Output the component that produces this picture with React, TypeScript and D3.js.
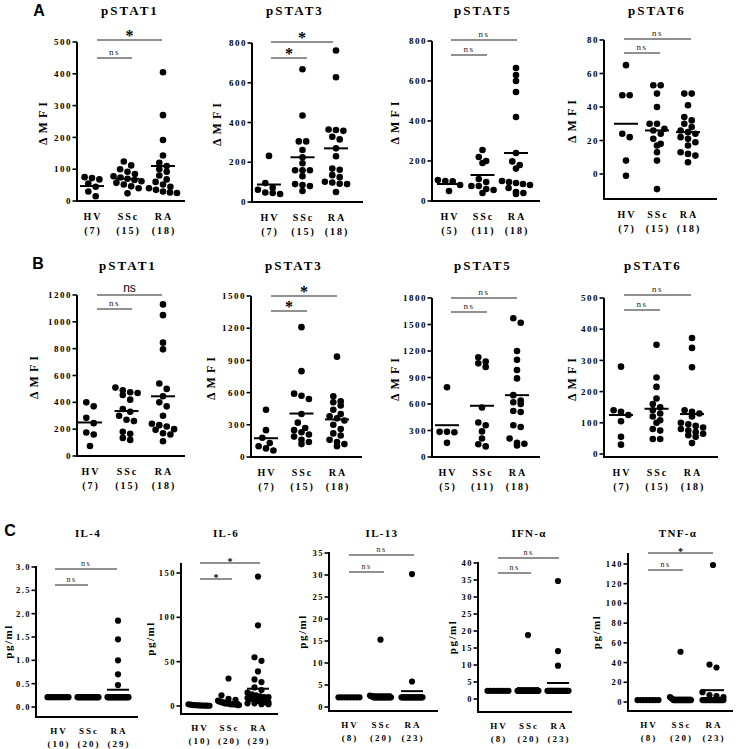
import React from "react";
import * as d3 from "d3";

const groups = ["HV", "SSc", "RA"];

// ---------- Panel A (ΔMFI) ----------
const a1HV = [75, 72, 68, 55, 45, 30, 15];
const a1SSc = [124, 112, 100, 92, 85, 78, 74, 70, 66, 62, 57, 52, 46, 40, 24];
const a1RA = [405, 270, 192, 143, 120, 110, 100, 92, 80, 68, 60, 52, 45, 40, 35, 30, 27, 25];
const a1Line = [47, 70, 110];

const a2HV = [232, 95, 72, 62, 48, 45, 40];
const a2SSc = [668, 435, 305, 305, 262, 225, 195, 160, 160, 160, 130, 90, 85, 80, 55];
const a2RA = [762, 628, 365, 362, 358, 328, 315, 270, 230, 168, 162, 135, 125, 102, 98, 92, 90, 50];
const a2Line = [88, 225, 270];

const a3HV = [105, 100, 98, 80, 50];
const a3SSc = [255, 220, 200, 190, 110, 95, 75, 75, 60, 55, 40];
const a3RA = [665, 630, 600, 545, 420, 240, 198, 180, 162, 100, 95, 90, 85, 80, 65, 45, 40, 35];
const a3Line = [85, 130, 240];

const a4HV = [65, 47, 47, 24, 22, 8, -1];
const a4SSc = [53, 53, 48, 40, 30, 30, 27, 26, 24, 21, 18, 17, 13, 8, -9];
const a4RA = [48, 48, 41, 34, 32, 30, 28, 26, 25, 24, 22, 21, 19, 17, 13, 12, 11, 7];
const a4Line = [30, 26, 25];

// ---------- Panel B (ΔMFI) ----------
const b1HV = [400, 370, 285, 245, 175, 160, 75];
const b1SSc = [510, 490, 475, 470, 455, 420, 350, 330, 300, 270, 260, 180, 165, 135, 120];
const b1RA = [1130, 1050, 845, 795, 540, 500, 445, 400, 370, 300, 240, 230, 220, 200, 195, 170, 160, 110];
const b1Line = [250, 335, 445];

const b2HV = [440, 250, 180, 130, 100, 80, 60];
const b2SSc = [1210, 800, 590, 570, 540, 400, 320, 270, 250, 230, 210, 190, 160, 140, 120];
const b2RA = [935, 565, 520, 510, 480, 440, 400, 380, 360, 340, 300, 260, 220, 200, 160, 140, 120, 100];
const b2Line = [175, 405, 350];

const b3HV = [790, 285, 285, 280, 160];
const b3SSc = [1130, 1080, 1060, 1020, 560, 390, 360, 290, 210, 145, 120];
const b3RA = [1570, 1520, 1200, 1100, 985, 890, 700, 640, 620, 600, 520, 510, 360, 340, 210, 160, 150, 130];
const b3Line = [360, 580, 700];

const b4HV = [280, 140, 135, 125, 105, 55, 30];
const b4SSc = [350, 245, 215, 178, 160, 150, 140, 130, 120, 108, 100, 80, 75, 48, 48];
const b4RA = [372, 340, 278, 140, 135, 130, 120, 100, 95, 90, 85, 80, 75, 70, 65, 60, 55, 35];
const b4Line = [125, 145, 128];

// ---------- Panel C (pg/ml) ----------
const c1HV = [0.21, 0.21, 0.21, 0.21, 0.21, 0.21, 0.21, 0.21, 0.21, 0.21];
const c1SSc = [0.21, 0.21, 0.21, 0.21, 0.21, 0.21, 0.21, 0.21, 0.21, 0.21, 0.21, 0.21, 0.21, 0.21, 0.21, 0.21, 0.21, 0.21, 0.21, 0.21];
const c1RA = [1.85, 1.45, 1.0, 0.7, 0.47, 0.21, 0.21, 0.21, 0.21, 0.21, 0.21, 0.21, 0.21, 0.21, 0.21, 0.21, 0.21, 0.21, 0.21, 0.21, 0.21, 0.21, 0.21, 0.21, 0.21, 0.21, 0.21, 0.21, 0.21];
const c1Line = [0.21, 0.21, 0.37];

const c2HV = [2, 1.5, 1, 1, 0.8, 0.6, 0.5, 0.5, 0.4, 0.3];
const c2SSc = [31, 12, 8, 7, 6, 5, 5, 4, 4, 3, 3, 3, 3, 2, 2, 2, 2, 2, 1, 1];
const c2RA = [146, 91, 55, 51, 39, 30, 27, 21, 18, 15, 13, 12, 11, 10, 10, 9, 8, 8, 7, 6, 6, 5, 5, 4, 4, 3, 3, 2, 2];
const c2Line = [0.8, 4.5, 19.5];

const c3HV = [2.2, 2.2, 2.2, 2.2, 2.2, 2.2, 2.2, 2.2];
const c3SSc = [15.3, 2.6, 2.5, 2.4, 2.2, 2.2, 2.2, 2.2, 2.2, 2.2, 2.2, 2.2, 2.2, 2.2, 2.2, 2.2, 2.2, 2.2, 2.2, 2.2];
const c3RA = [30.2, 5.8, 2.2, 2.2, 2.2, 2.2, 2.2, 2.2, 2.2, 2.2, 2.2, 2.2, 2.2, 2.2, 2.2, 2.2, 2.2, 2.2, 2.2, 2.2, 2.2, 2.2, 2.2];
const c3Line = [2.2, 2.9, 3.6];

const c4HV = [2.4, 2.4, 2.4, 2.4, 2.4, 2.4, 2.4, 2.4];
const c4SSc = [18.8, 2.4, 2.4, 2.4, 2.4, 2.4, 2.4, 2.4, 2.4, 2.4, 2.4, 2.4, 2.4, 2.4, 2.4, 2.4, 2.4, 2.4, 2.4, 2.4];
const c4RA = [34.7, 14.1, 9.8, 2.4, 2.4, 2.4, 2.4, 2.4, 2.4, 2.4, 2.4, 2.4, 2.4, 2.4, 2.4, 2.4, 2.4, 2.4, 2.4, 2.4, 2.4, 2.4, 2.4];
const c4Line = [2.4, 3.2, 4.7];

const c5HV = [2, 2, 2, 2, 2, 2, 2, 2];
const c5SSc = [51, 5, 4, 3, 2, 2, 2, 2, 2, 2, 2, 2, 2, 2, 2, 2, 2, 2, 2, 2];
const c5RA = [139, 38, 35, 10, 7, 6, 5, 2, 2, 2, 2, 2, 2, 2, 2, 2, 2, 2, 2, 2, 2, 2, 2];
const c5Line = [2, 4.5, 12];

// sample sizes
const nA = ["(7)", "(15)", "(18)"];
const nA5 = ["(5)", "(11)", "(18)"];
const nIL46 = ["(10)", "(20)", "(29)"];
const nC = ["(8)", "(20)", "(23)"];

// tick values
const ticks500 = [0, 100, 200, 300, 400, 500];
const ticks800 = [0, 200, 400, 600, 800];
const ticks80 = [0, 20, 40, 60, 80];
const ticks1200 = [0, 200, 400, 600, 800, 1000, 1200];
const ticks1500 = [0, 300, 600, 900, 1200, 1500];
const ticks1800 = [0, 300, 600, 900, 1200, 1500, 1800];
const ticksIL4 = [0, 0.5, 1, 1.5, 2, 2.5, 3];
const ticksIL6 = [0, 50, 100, 150];
const ticksIL13 = [0, 5, 10, 15, 20, 25, 30, 35];
const ticksIFN = [0, 5, 10, 15, 20, 25, 30, 35, 40];
const ticksTNF = [0, 20, 40, 60, 80, 100, 120, 140];

const SERIF = "'Liberation Serif', 'Times New Roman', serif";
const SANS = "'Liberation Sans', Arial, sans-serif";

type Sig = { x1: number; x2: number; y: number; label: string };
type Panel = {
  title: string; titleX: number; titleY: number; row: "AB" | "C";
  axisX: number; xEnd: number; y0: number; yTop: number; axisTop: number; xAxisY: number;
  ticks: number[]; fmt: (v: number) => string;
  xHV: number; xRA: number;
  data: number[][]; lines: number[]; ns: string[];
  sig: Sig[]; ylabel: string; labelX: number;
};

const fInt = (v: number) => d3.format("d")(v);
const f1 = (v: number) => d3.format(".1f")(v);

const panels: Panel[] = [
  { title: "pSTAT1", titleX: 130, titleY: 15, row: "AB", axisX: 77, xEnd: 185, y0: 201, yTop: 42, axisTop: 42, xAxisY: 201,
    ticks: ticks500, fmt: fInt, xHV: 92, xRA: 163, data: [a1HV, a1SSc, a1RA], lines: a1Line, ns: nA,
    sig: [{ x1: 97, x2: 132, y: 58, label: "ns" }, { x1: 97, x2: 162, y: 40, label: "*" }], ylabel: "ΔMFI", labelX: 43 },
  { title: "pSTAT3", titleX: 295, titleY: 15, row: "AB", axisX: 252, xEnd: 363, y0: 202, yTop: 43, axisTop: 43, xAxisY: 202,
    ticks: ticks800, fmt: fInt, xHV: 269, xRA: 336, data: [a2HV, a2SSc, a2RA], lines: a2Line, ns: nA,
    sig: [{ x1: 271, x2: 307, y: 58, label: "*" }, { x1: 271, x2: 333, y: 42, label: "*" }], ylabel: "ΔMFI", labelX: 217 },
  { title: "pSTAT5", titleX: 483, titleY: 15, row: "AB", axisX: 432, xEnd: 540, y0: 201, yTop: 41, axisTop: 41, xAxisY: 201,
    ticks: ticks800, fmt: fInt, xHV: 449, xRA: 516, data: [a3HV, a3SSc, a3RA], lines: a3Line, ns: nA5,
    sig: [{ x1: 451, x2: 487, y: 55, label: "ns" }, { x1: 451, x2: 517, y: 40, label: "ns" }], ylabel: "ΔMFI", labelX: 395 },
  { title: "pSTAT6", titleX: 657, titleY: 15, row: "AB", axisX: 604, xEnd: 717, y0: 174, yTop: 40, axisTop: 40, xAxisY: 199,
    ticks: ticks80, fmt: fInt, xHV: 626, xRA: 688, data: [a4HV, a4SSc, a4RA], lines: a4Line, ns: nA,
    sig: [{ x1: 624, x2: 660, y: 53, label: "ns" }, { x1: 624, x2: 691, y: 39, label: "ns" }], ylabel: "ΔMFI", labelX: 572 },

  { title: "pSTAT1", titleX: 128, titleY: 270, row: "AB", axisX: 77, xEnd: 185, y0: 456, yTop: 295, axisTop: 295, xAxisY: 456,
    ticks: ticks1200, fmt: fInt, xHV: 90, xRA: 163, data: [b1HV, b1SSc, b1RA], lines: b1Line, ns: nA,
    sig: [{ x1: 97, x2: 132, y: 309, label: "ns" }, { x1: 97, x2: 162, y: 295, label: "NS" }], ylabel: "ΔMFI", labelX: 34 },
  { title: "pSTAT3", titleX: 294, titleY: 270, row: "AB", axisX: 251, xEnd: 362, y0: 457, yTop: 296, axisTop: 296, xAxisY: 457,
    ticks: ticks1500, fmt: fInt, xHV: 266, xRA: 337, data: [b2HV, b2SSc, b2RA], lines: b2Line, ns: nA,
    sig: [{ x1: 271, x2: 307, y: 311, label: "*" }, { x1: 271, x2: 337, y: 296, label: "*" }], ylabel: "ΔMFI", labelX: 211 },
  { title: "pSTAT5", titleX: 483, titleY: 270, row: "AB", axisX: 432, xEnd: 540, y0: 457, yTop: 298, axisTop: 298, xAxisY: 457,
    ticks: ticks1800, fmt: fInt, xHV: 447, xRA: 517, data: [b3HV, b3SSc, b3RA], lines: b3Line, ns: nA5,
    sig: [{ x1: 451, x2: 487, y: 312, label: "ns" }, { x1: 451, x2: 517, y: 298, label: "ns" }], ylabel: "ΔMFI", labelX: 395 },
  { title: "pSTAT6", titleX: 653, titleY: 270, row: "AB", axisX: 604, xEnd: 718, y0: 454, yTop: 298, axisTop: 298, xAxisY: 457,
    ticks: ticks500, fmt: fInt, xHV: 621, xRA: 692, data: [b4HV, b4SSc, b4RA], lines: b4Line, ns: nA,
    sig: [{ x1: 624, x2: 660, y: 310, label: "ns" }, { x1: 624, x2: 691, y: 295, label: "ns" }], ylabel: "ΔMFI", labelX: 572 },

  { title: "IL-4", titleX: 88, titleY: 537, row: "C", axisX: 36, xEnd: 138, y0: 707, yTop: 567, axisTop: 566, xAxisY: 717,
    ticks: ticksIL4, fmt: f1, xHV: 58, xRA: 118, data: [c1HV, c1SSc, c1RA], lines: c1Line, ns: nIL46,
    sig: [{ x1: 55, x2: 88, y: 585, label: "ns" }, { x1: 55, x2: 117, y: 569, label: "ns" }], ylabel: "pg/ml", labelX: 8 },
  { title: "IL-6", titleX: 226, titleY: 537, row: "C", axisX: 181, xEnd: 278, y0: 706, yTop: 573, axisTop: 563, xAxisY: 714,
    ticks: ticksIL6, fmt: fInt, xHV: 199, xRA: 258, data: [c2HV, c2SSc, c2RA], lines: c2Line, ns: nIL46,
    sig: [{ x1: 200, x2: 232, y: 579, label: "*" }, { x1: 200, x2: 260, y: 563, label: "*" }], ylabel: "pg/ml", labelX: 150 },
  { title: "IL-13", titleX: 382, titleY: 537, row: "C", axisX: 329, xEnd: 438, y0: 707, yTop: 553, axisTop: 552, xAxisY: 711,
    ticks: ticksIL13, fmt: fInt, xHV: 349, xRA: 412, data: [c3HV, c3SSc, c3RA], lines: c3Line, ns: nC,
    sig: [{ x1: 349, x2: 384, y: 572, label: "ns" }, { x1: 349, x2: 414, y: 555, label: "ns" }], ylabel: "pg/ml", labelX: 302 },
  { title: "IFN-α", titleX: 529, titleY: 537, row: "C", axisX: 478, xEnd: 572, y0: 699, yTop: 563, axisTop: 562, xAxisY: 712,
    ticks: ticksIFN, fmt: fInt, xHV: 498, xRA: 558, data: [c4HV, c4SSc, c4RA], lines: c4Line, ns: nC,
    sig: [{ x1: 498, x2: 531, y: 573, label: "ns" }, { x1: 498, x2: 559, y: 558, label: "ns" }], ylabel: "pg/ml", labelX: 452 },
  { title: "TNF-α", titleX: 678, titleY: 537, row: "C", axisX: 628, xEnd: 733, y0: 702, yTop: 564, axisTop: 553, xAxisY: 711,
    ticks: ticksTNF, fmt: fInt, xHV: 648, xRA: 713, data: [c5HV, c5SSc, c5RA], lines: c5Line, ns: nC,
    sig: [{ x1: 648, x2: 683, y: 570, label: "ns" }, { x1: 648, x2: 713, y: 553, label: "*" }], ylabel: "pg/ml", labelX: 596 },
];

function swarm(values: number[], y: (v: number) => number, cx: number, d: number, W: number) {
  const pts = values.map((v) => ({ v, py: y(v) })).sort((a, b) => a.py - b.py);
  const rows: { v: number; py: number }[][] = [];
  for (const p of pts) {
    const last = rows[rows.length - 1];
    if (last && p.py - last[0].py < d * 0.85) last.push(p);
    else rows.push([p]);
  }
  const out: { x: number; y: number }[] = [];
  for (const row of rows) {
    const n = row.length;
    const s = n > 1 ? Math.min(d + 0.8, (2 * W) / (n - 1)) : 0;
    // alternate placement: center-out
    const order = row.map((_, i) => i);
    order.forEach((i) => out.push({ x: cx + (i - (n - 1) / 2) * s, y: row[i].py }));
  }
  return out;
}

function PanelView({ p }: { p: Panel }) {
  const isC = p.row === "C";
  const maxTick = p.ticks[p.ticks.length - 1];
  const y = d3.scaleLinear().domain([0, maxTick]).range([p.y0, p.yTop]);
  const x = d3.scalePoint<string>().domain(groups).range([p.xHV, p.xRA]);
  const r = isC ? 3.1 : 3.3;
  const W = isC ? 10.5 : 14;
  const half = isC ? 11 : 12;
  const tickSize = isC ? 8.5 : 9;
  const catSize = isC ? 9 : 10;
  const catDy1 = isC ? 16.5 : 19;
  const catDy2 = isC ? 29.5 : 33;
  return (
    <g>
      <text x={p.titleX} y={p.titleY} textAnchor="middle" fontFamily={SERIF} fontWeight="bold"
        fontSize={isC ? 11 : 13} letterSpacing={isC ? 1.3 : 2}>{p.title}</text>
      {/* y axis */}
      <line x1={p.axisX} x2={p.axisX} y1={p.axisTop} y2={p.xAxisY + 1} stroke="#000" strokeWidth={2} />
      {p.ticks.map((t) => (
        <g key={t}>
          <line x1={p.axisX - 4.5} x2={p.axisX} y1={y(t)} y2={y(t)} stroke="#000" strokeWidth={1.6} />
          <text x={p.axisX - 5} y={y(t)} dy="0.35em" textAnchor="end" fontFamily={SERIF} fontWeight="bold"
            fontSize={tickSize} letterSpacing={1.5}>{p.fmt(t)}</text>
        </g>
      ))}
      {/* x axis */}
      <line x1={p.axisX - 1} x2={p.xEnd} y1={p.xAxisY} y2={p.xAxisY} stroke="#000" strokeWidth={2} />
      <text transform={`translate(${p.labelX},${(p.axisTop + p.xAxisY) / 2}) rotate(-90)`} textAnchor="middle"
        dominantBaseline="central" fontFamily={SERIF} fontWeight="bold" fontSize={isC ? 11 : 12}
        letterSpacing={isC ? 1.5 : 4}>{p.ylabel}</text>
      {groups.map((g, i) => (
        <g key={g}>
          <text x={(x(g) as number) + 1} y={p.xAxisY + catDy1} textAnchor="middle" fontFamily={SERIF} fontWeight="bold"
            fontSize={catSize} letterSpacing={2}>{g}</text>
          <text x={(x(g) as number) + 1} y={p.xAxisY + catDy2} textAnchor="middle" fontFamily={SERIF} fontWeight="bold"
            fontSize={catSize} letterSpacing={2}>{p.ns[i]}</text>
          {swarm(p.data[i], y, x(g) as number, 2 * r, W).map((pt, j) => (
            <circle key={j} cx={pt.x} cy={pt.y} r={r} fill="#000" />
          ))}
          <line x1={(x(g) as number) - half} x2={(x(g) as number) + half} y1={y(p.lines[i])} y2={y(p.lines[i])}
            stroke="#000" strokeWidth={2} />
        </g>
      ))}
      {p.sig.map((s, i) => (
        <g key={i}>
          <line x1={s.x1} x2={s.x2} y1={s.y} y2={s.y} stroke="#222" strokeWidth={1} />
          {s.label === "*" ? (
            <text x={(s.x1 + s.x2) / 2} y={s.y + (isC ? 2 : 0.5)} textAnchor="middle" fontFamily={SERIF}
              fontWeight="bold" fontSize={isC ? 10 : 16}>*</text>
          ) : s.label === "NS" ? (
            <text x={(s.x1 + s.x2) / 2} y={s.y - 3} textAnchor="middle" fontFamily={SANS} fontSize={12}>ns</text>
          ) : (
            <text x={(s.x1 + s.x2) / 2} y={s.y - 3} textAnchor="middle" fontFamily={SERIF} fontSize={isC ? 8 : 9}
              letterSpacing={1.5} fill="#222">ns</text>
          )}
        </g>
      ))}
    </g>
  );
}

export default function App() {
  return (
    <svg width={740} height={749} style={{ position: "absolute", left: 0, top: 0, background: "#fff" }}>
      <rect width={740} height={749} fill="#fff" />
      <text x={39} y={16} textAnchor="middle" fontFamily={SANS} fontWeight="bold" fontSize={16}>A</text>
      <text x={38} y={269} textAnchor="middle" fontFamily={SANS} fontWeight="bold" fontSize={16}>B</text>
      <text x={10} y={536} textAnchor="middle" fontFamily={SANS} fontWeight="bold" fontSize={16}>C</text>
      {panels.map((p, i) => (
        <PanelView key={i} p={p} />
      ))}
    </svg>
  );
}
